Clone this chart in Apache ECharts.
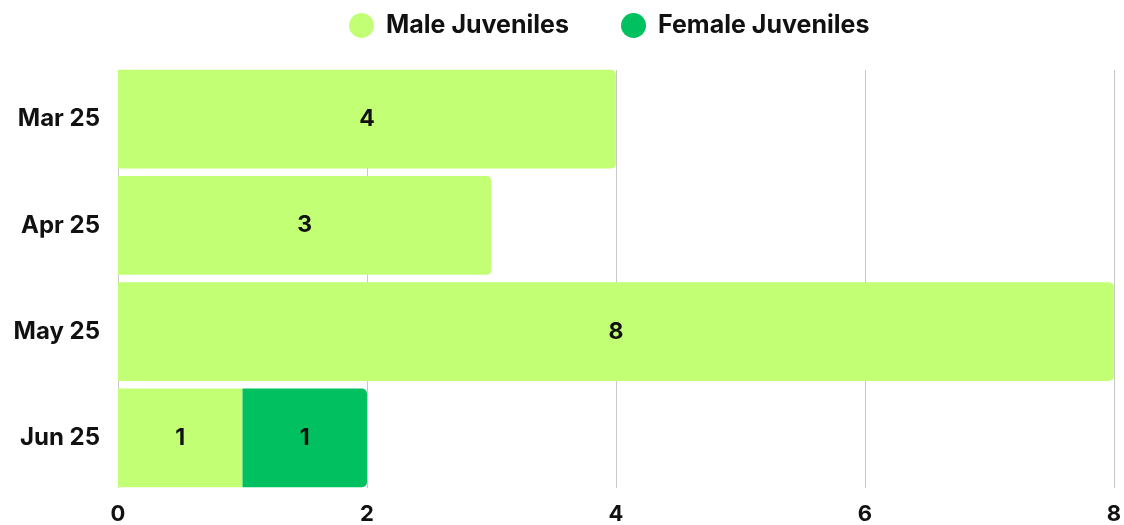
<!DOCTYPE html>
<html><head><meta charset="utf-8">
<script src="https://cdn.jsdelivr.net/npm/echarts@6/dist/echarts.min.js"></script>
<style>html,body{margin:0;padding:0;background:#fff}#c{width:1124px;height:525px}</style>
</head><body><div id="c"></div>
<script>
const categories = ['Mar 25', 'Apr 25', 'May 25', 'Jun 25'];
const maleValues = [4, 3, 8, 1];
const femaleValues = [0, 0, 0, 1];
const xTicks = [0, 2, 4, 6, 8];

const font = 'Inter, "Open Sans", sans-serif';
const chart = echarts.init(document.getElementById('c'));
function radiusFor(i) {
  return femaleValues[i] > 0 ? 0 : [0, 5, 5, 0];
}
chart.setOption({
  animation: false,
  legend: {
    top: 8, left: 344, itemGap: 52, itemWidth: 25, itemHeight: 25, icon: 'circle',
    textStyle: { fontFamily: font, fontWeight: 'bold', fontSize: 25, color: '#111', padding: [0, 0, 0, 7] },
    data: ['Male Juveniles', 'Female Juveniles']
  },
  grid: [
    { left: 118, right: 10, top: 70, bottom: 37, containLabel: false, z: 0 },
    { left: 118, right: 10, top: 66, bottom: 33, containLabel: false }
  ],
  xAxis: [
    { gridIndex: 0, type: 'value', min: 0, max: 8, interval: 2,
      axisLine: { show: false }, axisTick: { show: false }, axisLabel: { show: false },
      splitLine: { show: true, lineStyle: { color: '#c8c8c8', width: 1 } } },
    { gridIndex: 1, type: 'value', min: 0, max: 8, interval: 2,
      axisLine: { show: false }, axisTick: { show: false }, splitLine: { show: false },
      axisLabel: { fontFamily: font, fontWeight: 'bold', fontSize: 22, color: '#111', margin: 12,
        formatter: v => xTicks.includes(v) ? String(v) : '' } }
  ],
  yAxis: [
    { gridIndex: 0, type: 'value', min: 0, max: 1, show: false },
    { gridIndex: 1, type: 'category', inverse: true, data: categories,
      axisLine: { show: false }, axisTick: { show: false },
      axisLabel: { fontFamily: font, fontWeight: 'bold', fontSize: 24, color: '#111', margin: 18 } }
  ],
  series: [
    { name: 'Male Juveniles', type: 'bar', stack: 't', barCategoryGap: '7%', xAxisIndex: 1, yAxisIndex: 1,
      itemStyle: { color: '#c2ff75' },
      data: maleValues.map((v, i) => ({ value: v, itemStyle: { borderRadius: radiusFor(i) } })),
      label: { show: true, position: 'inside', fontFamily: font, fontWeight: 'bold', fontSize: 23, color: '#111' } },
    { name: 'Female Juveniles', type: 'bar', stack: 't', barCategoryGap: '7%', xAxisIndex: 1, yAxisIndex: 1,
      itemStyle: { color: '#00c060', borderRadius: [0, 5, 5, 0] },
      data: femaleValues,
      label: { show: true, position: 'inside', fontFamily: font, fontWeight: 'bold', fontSize: 23, color: '#111',
        formatter: p => p.value > 0 ? String(p.value) : '' } }
  ]
});
</script></body></html>
